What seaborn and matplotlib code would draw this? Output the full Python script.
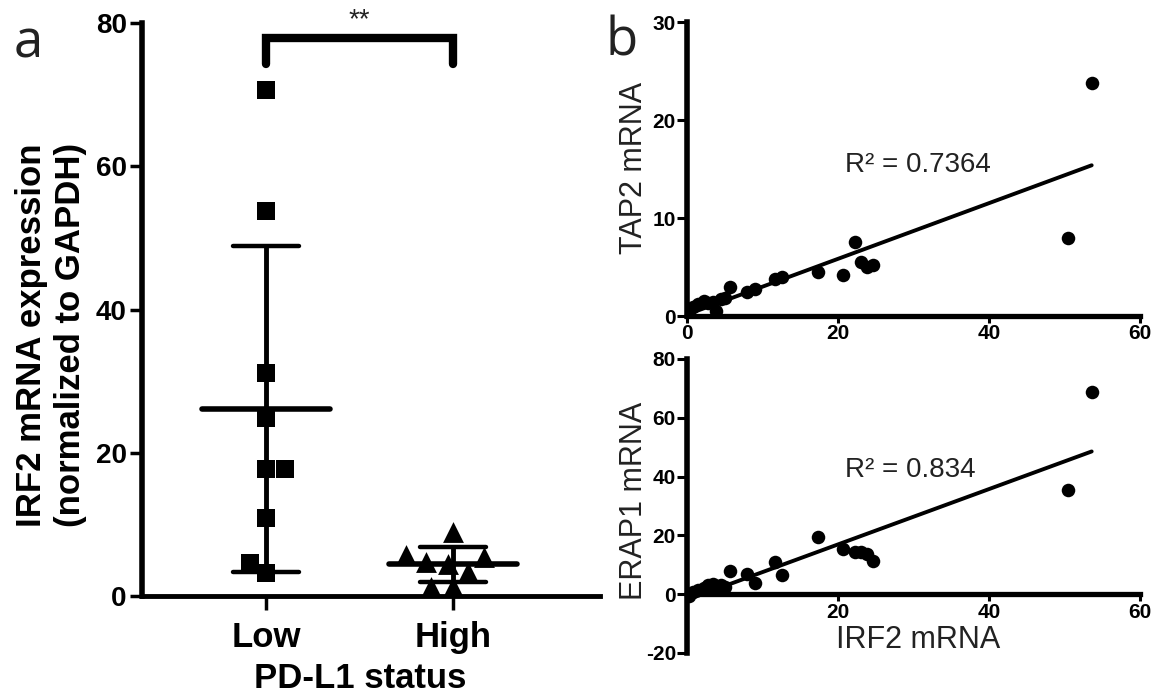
import numpy as np
import pandas as pd
import matplotlib
matplotlib.use("Agg")
import matplotlib.pyplot as plt
import seaborn as sns

# ---------------- data ----------------
groups = ["Low", "High"]
irf2_low = [70.7, 53.8, 31.2, 24.8, 17.8, 17.8, 10.9, 4.6, 3.2]
irf2_high = [8.9, 5.7, 5.4, 4.7, 4.5, 3.4, 1.3, 1.3]
yticks_a = [0, 20, 40, 60, 80]

irf2_b = [0.3, 0.8, 1.5, 2.2, 2.8, 3.5, 3.8, 4.5, 5.0, 5.7, 7.9, 9.0,
          11.7, 12.6, 17.4, 20.6, 22.3, 23.1, 23.8, 24.7, 50.4, 53.6]
tap2 = [0.5, 0.9, 1.2, 1.5, 1.3, 1.4, 0.5, 1.7, 1.8, 3.0, 2.4, 2.8,
        3.8, 4.0, 4.5, 4.2, 7.6, 5.5, 5.0, 5.2, 8.0, 23.8]
erap1 = [-0.5, 0.8, 1.5, 2.0, 3.0, 3.5, 2.5, 3.0, 2.5, 8.0, 6.9, 3.8,
         11.1, 6.5, 19.6, 15.4, 14.3, 14.3, 13.7, 11.2, 35.6, 68.8]
xticks_b = [0, 20, 40, 60]
yticks_tap2 = [0, 10, 20, 30]
yticks_erap1 = [-20, 0, 20, 40, 60, 80]
r2_tap2 = "0.7364"
r2_erap1 = "0.834"

# ---------------- style ----------------
sns.set_style("ticks")
plt.rcParams["font.family"] = ["Liberation Sans", "DejaVu Sans"]
plt.rcParams.update({
    "axes.edgecolor": "black",
    "xtick.color": "black",
    "ytick.color": "black",
    "text.color": "black",
    "axes.labelcolor": "black",
})

W, H = 1157, 694
fig = plt.figure(figsize=(W / 100, H / 100), dpi=100)

def fx(px):
    return px / W

def fy(py):
    return 1 - py / H

# ---------------- panel a ----------------
axA = fig.add_axes([fx(142), fy(596), fx(600) - fx(142), fy(23) - fy(596)])
df_low = pd.DataFrame({"g": "Low", "v": irf2_low})
df_high = pd.DataFrame({"g": "High", "v": irf2_high})
sns.swarmplot(data=df_low, x="g", y="v", order=groups, marker="s", size=13,
              color="black", linewidth=0, ax=axA)
sns.swarmplot(data=df_high, x="g", y="v", order=groups, marker="^", size=15,
              color="black", linewidth=0, ax=axA)

for i, vals in enumerate([irf2_low, irf2_high]):
    m = np.mean(vals)
    sd = np.std(vals, ddof=1)
    axA.hlines(m, i - 0.34, i + 0.34, color="black", lw=4, capstyle="round", zorder=5)
    axA.vlines(i, m - sd, m + sd, color="black", lw=3.5, zorder=5)
    axA.hlines([m - sd, m + sd], i - 0.175, i + 0.175, color="black", lw=3.2,
               capstyle="round", zorder=5)

axA.set_xlim(-0.663, 1.786)
axA.set_ylim(0, 80)
axA.set_yticks(yticks_a)
axA.set_yticklabels([str(t) for t in yticks_a], fontsize=20, fontweight="bold")
axA.set_xticks([0, 1])
axA.set_xticklabels(groups, fontsize=25, fontweight="bold")
for s in ["top", "right"]:
    axA.spines[s].set_visible(False)
axA.spines["left"].set_linewidth(4)
axA.spines["bottom"].set_linewidth(3.5)
axA.tick_params(axis="y", length=9, width=2.5, pad=2)
axA.tick_params(axis="x", length=10, width=2.5, pad=8)

# significance bracket
axA.plot([0, 0, 1, 1], [74.3, 77.9, 77.9, 74.3], color="black", lw=6,
         solid_capstyle="round", solid_joinstyle="miter", clip_on=False)
axA.text(0.5, 80.4, "**", ha="center", va="center", fontsize=20, color="#222222",
         clip_on=False)

axA.set_xlabel("PD-L1 status", fontsize=25, fontweight="bold")
axA.xaxis.set_label_coords((360 - 142) / 458, (596 - 678) / 573)
axA.xaxis.label.set_va("center")
axA.set_ylabel("IRF2 mRNA expression\n(normalized to GAPDH)", fontsize=25,
               fontweight="bold")
axA.yaxis.set_label_coords((51 - 142) / 458, (596 - 335) / 573)
axA.yaxis.label.set_va("center")

# ---------------- panel b ----------------
b_left = fx(687)
b_w = fx(1140) - fx(687)
axB1 = fig.add_axes([b_left, fy(316), b_w, fy(22) - fy(316)])
axB2 = fig.add_axes([b_left, fy(653), b_w, fy(359) - fy(653)])

for ax, yv in [(axB1, tap2), (axB2, erap1)]:
    sns.regplot(x=irf2_b, y=yv, ax=ax, ci=None, color="black",
                scatter_kws=dict(s=95, linewidths=0, alpha=1),
                line_kws=dict(lw=2.8))
    ax.set_xlim(0, 60)
    for s in ["top", "right"]:
        ax.spines[s].set_visible(False)
    ax.spines["left"].set_linewidth(4)
    ax.spines["bottom"].set_linewidth(3.8)
    ax.tick_params(axis="y", length=7, width=2.2, pad=1)
    ax.tick_params(axis="x", length=5, width=2.2, pad=1)

axB1.set_ylim(0, 30)
axB1.set_yticks(yticks_tap2)
axB1.set_yticklabels([str(t) for t in yticks_tap2], fontsize=15, fontweight="bold")
axB1.set_xticks(xticks_b)
axB1.set_xticklabels([str(t) for t in xticks_b], fontsize=15, fontweight="bold")
axB1.set_ylabel("TAP2 mRNA", fontsize=22, color="#222222")
axB1.yaxis.set_label_coords((634 - 687) / 453, (316 - 168) / 294)
axB1.yaxis.label.set_va("center")

axB2.set_ylim(-20, 80)
axB2.spines["bottom"].set_position(("data", 0))
axB2.set_yticks(yticks_erap1)
axB2.set_yticklabels([str(t) for t in yticks_erap1], fontsize=15, fontweight="bold")
axB2.set_xticks(xticks_b)
axB2.set_xticklabels([""] + [str(t) for t in xticks_b[1:]], fontsize=15,
                     fontweight="bold")
axB2.set_ylabel("ERAP1 mRNA", fontsize=22, color="#222222")
axB2.yaxis.set_label_coords((634 - 687) / 453, (653 - 501) / 294)
axB2.yaxis.label.set_va("center")
axB2.set_xlabel("IRF2 mRNA", fontsize=22, color="#222222")
axB2.xaxis.set_label_coords((918 - 687) / 453, (653 - 640) / 294)
axB2.xaxis.label.set_va("center")

fig.text(fx(845), fy(165), "R\u00b2 = " + r2_tap2, fontsize=20,
         color="#222222", ha="left", va="center")
fig.text(fx(845), fy(470), "R\u00b2 = " + r2_erap1, fontsize=20,
         color="#222222", ha="left", va="center")

# panel letters
fig.text(fx(28), fy(44), "a", fontsize=38, color="#222222", ha="center",
         va="center", family=["Open Sans", "DejaVu Sans"])
fig.text(fx(622), fy(42), "b", fontsize=38, color="#222222", ha="center",
         va="center", family=["Open Sans", "DejaVu Sans"])

fig.savefig("out.png", dpi=100)
